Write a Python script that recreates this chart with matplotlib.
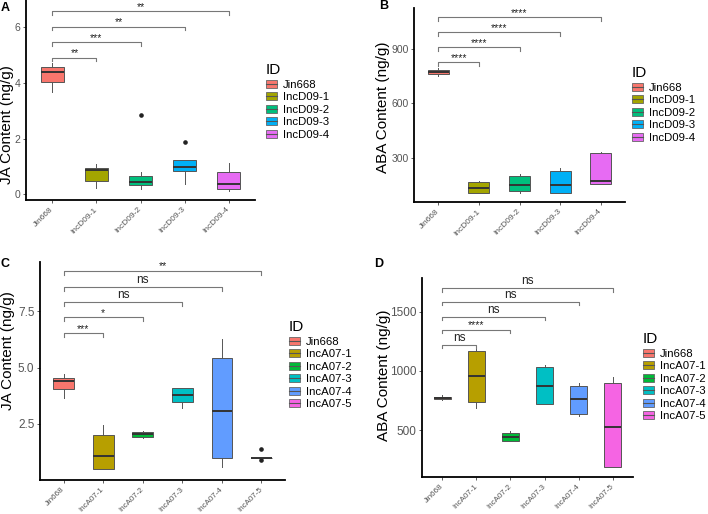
import numpy as np
import matplotlib.pyplot as plt
from matplotlib.patches import Patch
from matplotlib.lines import Line2D

plt.rcParams['font.family'] = ['Liberation Sans', 'DejaVu Sans']

# panel A: JA, IncD09 lines
ids_d09 = ['Jin668', 'IncD09-1', 'IncD09-2', 'IncD09-3', 'IncD09-4']
colors_d09 = ['#F8766D', '#A3A500', '#00BF7D', '#00B0F6', '#E76BF3']
ja_d09_lo = [3.66, 0.24, 0.18, 0.36, 0.13]
ja_d09_q1 = [4.03, 0.49, 0.33, 0.83, 0.18]
ja_d09_med = [4.40, 0.88, 0.43, 0.99, 0.36]
ja_d09_q3 = [4.55, 0.95, 0.67, 1.24, 0.82]
ja_d09_hi = [4.72, 1.10, 0.82, 1.24, 1.13]
ja_d09_out = [[], [], [2.85], [1.89], []]
ja_d09_sig = ['**', '***', '**', '**']
ja_d09_bracket = [4.90, 5.44, 6.00, 6.55]

# panel B: ABA, IncD09 lines
aba_d09_lo = [752, 104, 106, 102, 156]
aba_d09_q1 = [763, 104, 115, 102, 156]
aba_d09_med = [774, 133, 148, 150, 169]
aba_d09_q3 = [785, 165, 198, 228, 326]
aba_d09_hi = [794, 170, 211, 241, 333]
aba_d09_out = [[], [], [], [], []]
aba_d09_sig = ['****', '****', '****', '****']
aba_d09_bracket = [828, 911, 994, 1078]

# panel C: JA, IncA07 lines
ids_a07 = ['Jin668', 'IncA07-1', 'IncA07-2', 'IncA07-3', 'IncA07-4', 'IncA07-5']
colors_a07 = ['#F8766D', '#B79F00', '#00BA38', '#00BFC4', '#619CFF', '#F564E3']
ja_a07_lo = [3.66, 0.47, 1.88, 3.21, 0.60, 1.00]
ja_a07_q1 = [4.03, 0.47, 1.91, 3.48, 0.97, 1.00]
ja_a07_med = [4.40, 1.08, 2.03, 3.79, 3.06, 1.00]
ja_a07_q3 = [4.55, 1.98, 2.13, 4.07, 5.44, 1.00]
ja_a07_hi = [4.72, 2.43, 2.16, 4.10, 6.27, 1.00]
ja_a07_out = [[], [], [], [], [], [1.37, 0.90]]
ja_a07_sig = ['***', '*', 'ns', 'ns', '**']
ja_a07_bracket = [6.54, 7.25, 7.92, 8.59, 9.30]

# panel D: ABA, IncA07 lines
aba_a07_lo = [753, 691, 413, 719, 618, 191]
aba_a07_q1 = [761, 742, 413, 725, 640, 191]
aba_a07_med = [772, 955, 444, 876, 767, 528]
aba_a07_q3 = [779, 1166, 480, 1031, 876, 902]
aba_a07_hi = [795, 1183, 494, 1051, 899, 949]
aba_a07_out = [[], [], [], [], [], []]
aba_a07_sig = ['ns', '****', 'ns', 'ns', 'ns']
aba_a07_bracket = [1222, 1347, 1458, 1583, 1700]

W, H = 708, 514
fig = plt.figure(figsize=(W/100, H/100), dpi=100)

def px_axes(left, top, right, bottom):
    return fig.add_axes([left/W, 1-bottom/H, (right-left)/W, (bottom-top)/H])

def draw_panel(ax, ids, colors, lo, q1, med, q3, hi, out, bracket_y, sig,
               ylim, yticks, ytick_fs, xtick_fs, leg_xy):
    n = len(ids)
    pos = np.arange(1, n+1)
    stats = []
    for i in range(n):
        stats.append(dict(med=med[i], q1=q1[i], q3=q3[i], whislo=lo[i],
                          whishi=hi[i], fliers=out[i]))
    bp = ax.bxp(stats, positions=pos, widths=0.52, patch_artist=True, showcaps=False,
                boxprops=dict(edgecolor='#555555', linewidth=0.7),
                whiskerprops=dict(color='#555555', linewidth=0.7),
                medianprops=dict(color='#333333', linewidth=1.4),
                flierprops=dict(marker='o', markersize=2.3, markerfacecolor='#222222',
                                markeredgecolor='#222222'))
    for b, c in zip(bp['boxes'], colors):
        b.set_facecolor(c)

    tip = 0.018*(ylim[1]-ylim[0])
    for i, (y, s) in enumerate(zip(bracket_y, sig)):
        x2 = i + 2
        ax.plot([1, 1, x2, x2], [y-tip, y, y, y-tip], color='#777777', lw=0.8,
                clip_on=False)
        if s == 'ns':
            ax.text((1+x2)/2, y + 0.3*tip, s, ha='center', va='bottom', fontsize=8.5,
                    color='#222222', clip_on=False)
        else:
            ax.text((1+x2)/2, y - 0.2*tip, s, ha='center', va='bottom', fontsize=7.5,
                    color='#222222', clip_on=False)

    ax.set_xlim(0.4, n+0.6)
    ax.set_ylim(*ylim)
    ax.set_yticks(yticks)
    ax.tick_params(axis='y', labelsize=ytick_fs, labelcolor='#555555', length=2.5,
                   width=0.6, color='#444444', pad=1.5)
    ax.tick_params(axis='x', length=2.5, width=0.6, color='#444444', pad=3.5)
    ax.set_xticks(pos)
    ax.set_xticklabels(ids, rotation=45, ha='right', va='center', rotation_mode='anchor',
                       fontsize=xtick_fs, color='#555555')
    for s in ['top', 'right']:
        ax.spines[s].set_visible(False)
    for s in ['left', 'bottom']:
        ax.spines[s].set_linewidth(1.3)
        ax.spines[s].set_color('black')

    handles = [(Patch(facecolor=c, edgecolor='#666666', linewidth=0.6),
                Line2D([], [], color='#555555', lw=0.8)) for c in colors]
    ax.legend(handles, ids, title='ID', loc='upper left',
              bbox_to_anchor=(leg_xy[0]/W, 1-leg_xy[1]/H),
              bbox_transform=fig.transFigure, frameon=False, fontsize=8.2,
              title_fontsize=11, alignment='left', borderpad=0,
              borderaxespad=0, handlelength=1.0, handleheight=0.7,
              handletextpad=0.5, labelspacing=0.22)
    return ax

axA = px_axes(26, 0, 255, 200)
draw_panel(axA, ids_d09, colors_d09, ja_d09_lo, ja_d09_q1, ja_d09_med, ja_d09_q3,
           ja_d09_hi, ja_d09_out, ja_d09_bracket, ja_d09_sig,
           (-0.2, 6.96), [0, 2, 4, 6], 7.5, 6, (266, 63))

axB = px_axes(414, 8, 625, 202)
draw_panel(axB, ids_d09, colors_d09, aba_d09_lo, aba_d09_q1, aba_d09_med, aba_d09_q3,
           aba_d09_hi, aba_d09_out, aba_d09_bracket, aba_d09_sig,
           (54, 1128), [300, 600, 900], 7.5, 6, (632, 66))

axC = px_axes(40, 262, 285, 480)
draw_panel(axC, ids_a07, colors_a07, ja_a07_lo, ja_a07_q1, ja_a07_med, ja_a07_q3,
           ja_a07_hi, ja_a07_out, ja_a07_bracket, ja_a07_sig,
           (0.0, 9.69), [2.5, 5.0, 7.5], 8.5, 5.8, (289, 320))
axC.set_yticklabels(['2.5', '5.0', '7.5'])

axD = px_axes(422, 278, 633, 477)
draw_panel(axD, ids_a07, colors_a07, aba_a07_lo, aba_a07_q1, aba_a07_med, aba_a07_q3,
           aba_a07_hi, aba_a07_out, aba_a07_bracket, aba_a07_sig,
           (106, 1784), [500, 1000, 1500], 8.5, 5.8, (643, 332))

# axis titles
fig.text(7.5/W, 1-125/H, 'JA Content (ng/g)', rotation=90, ha='center', va='center', fontsize=11)
fig.text(383/W, 1-107/H, 'ABA Content (ng/g)', rotation=90, ha='center', va='center', fontsize=11)
fig.text(8/W, 1-351/H, 'JA Content (ng/g)', rotation=90, ha='center', va='center', fontsize=11)
fig.text(384/W, 1-375/H, 'ABA Content (ng/g)', rotation=90, ha='center', va='center', fontsize=11)

# panel letters
for lab, x, y in [('A', 5, 8), ('B', 384, 6), ('C', 5, 264), ('D', 379, 264)]:
    fig.text(x/W, 1-y/H, lab, ha='center', va='center', fontsize=9, fontweight='bold')

fig.savefig('out.png', dpi=100)
